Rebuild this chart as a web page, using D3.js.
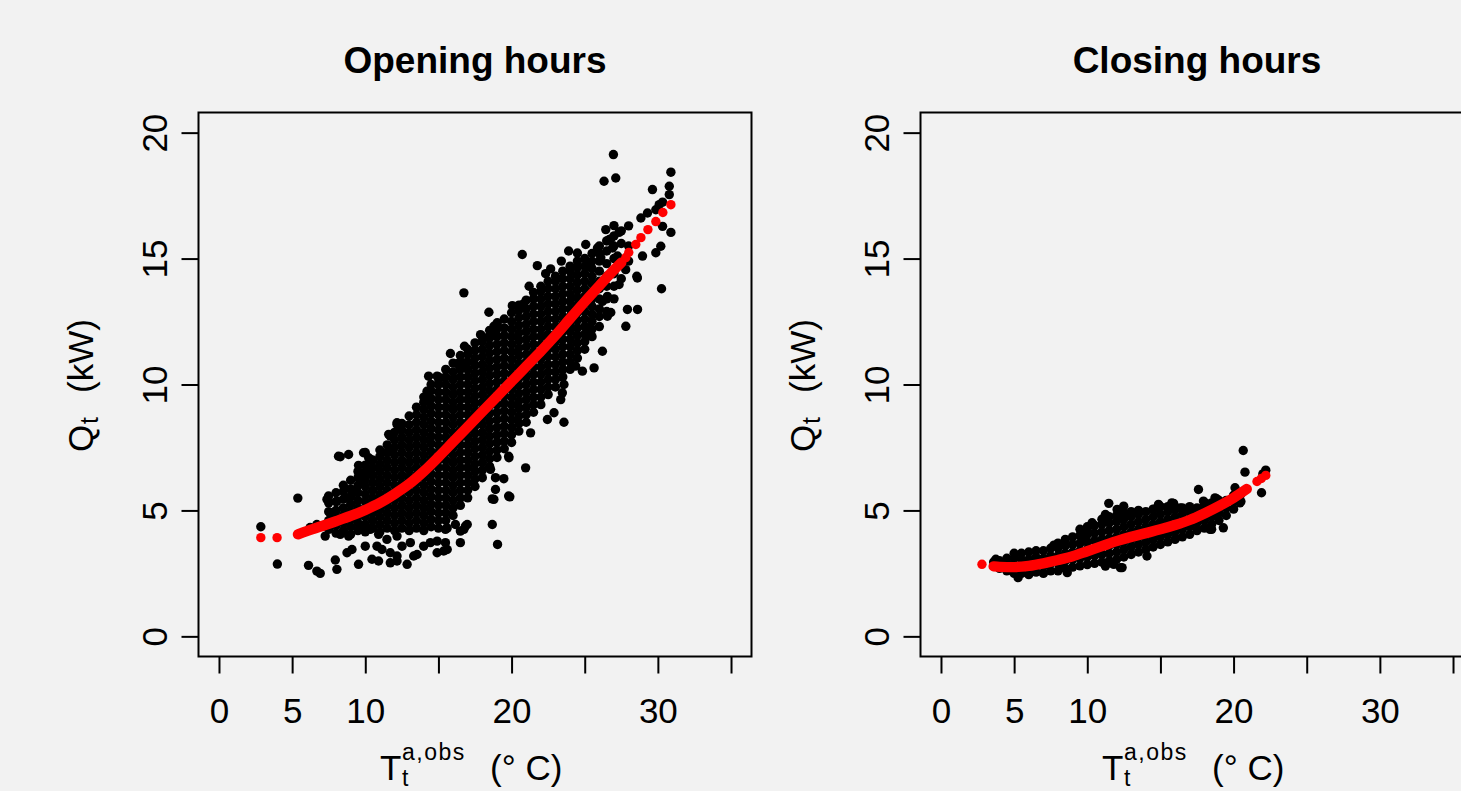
<!DOCTYPE html>
<html><head><meta charset="utf-8">
<script src="https://cdn.jsdelivr.net/npm/d3@7"></script>
<style>
html,body{margin:0;padding:0;background:#f2f2f2;}
svg{display:block;}
text{font-family:"Liberation Sans",Arial,Helvetica,sans-serif;fill:#000;}
</style></head><body>
<svg id="chart" width="1461" height="791"></svg>
<script>
// ---------- axis ticks / labels ----------
const xTicks = [0,5,10,15,20,25,30,35];
const xTickLabels = ["0","5","10","","20","","30",""];
const yTicks = [0,5,10,15,20];
const yTickLabels = ["0","5","10","15","20"];
const panelTitles = ["Opening hours","Closing hours"];

// ---------- Opening hours: observations (dense core by temperature column) ----------
const openCols = [
 [7.5,[4.25,4.6,4.95,5.3]],
 [8.0,[4.1,4.4,4.75,5.0,5.35,5.7]],
 [8.5,[4.2,4.5,4.8,5.1,5.45,5.75,6.0]],
 [9.0,[4.05,4.35,4.65,4.95,5.25,5.55,5.85,6.2]],
 [9.5,[4.2,4.5,4.8,5.1,5.4,5.7,6.0,6.3,6.55]],
 [10.0,[4.15,4.45,4.75,5.05,5.35,5.65,5.95,6.25,6.5,6.8]],
 [10.5,[4.3,4.6,4.9,5.2,5.5,5.8,6.1,6.4,6.7,7.0]],
 [11.0,[4.15,4.45,4.75,5.05,5.35,5.65,5.95,6.25,6.55,6.85,7.15,7.4]],
 [11.5,[4.3,4.6,4.9,5.2,5.5,5.8,6.1,6.4,6.7,7.0,7.3,7.6]],
 [12.0,[4.2,4.5,4.8,5.1,5.4,5.7,6.0,6.3,6.6,6.9,7.2,7.5,7.8,8.1]],
 [12.5,[4.3,4.6,4.9,5.2,5.5,5.8,6.1,6.4,6.7,7.0,7.3,7.6,7.9,8.2,8.45]],
 [13.0,[4.2,4.5,4.8,5.1,5.4,5.7,6.0,6.3,6.6,6.9,7.2,7.5,7.8,8.1,8.4,8.75]],
 [13.5,[4.3,4.6,4.9,5.2,5.5,5.8,6.1,6.4,6.7,7.0,7.3,7.6,7.9,8.2,8.5,8.8,9.1]],
 [14.0,[4.2,4.5,4.8,5.1,5.4,5.7,6.0,6.3,6.6,6.9,7.2,7.5,7.8,8.1,8.4,8.7,9.0,9.3,9.5]],
 [14.5,[4.35,4.65,4.95,5.25,5.55,5.85,6.15,6.45,6.75,7.05,7.35,7.65,7.95,8.25,8.55,8.85,9.15,9.45,9.75,10.0]],
 [15.0,[4.3,4.6,4.9,5.2,5.5,5.8,6.1,6.4,6.7,7.0,7.3,7.6,7.9,8.2,8.5,8.8,9.1,9.4,9.7,10.0,10.3]],
 [15.5,[4.6,4.9,5.2,5.5,5.8,6.1,6.4,6.7,7.0,7.3,7.6,7.9,8.2,8.5,8.8,9.1,9.4,9.7,10.0,10.3,10.6]],
 [16.0,[4.8,5.1,5.4,5.7,6.0,6.3,6.6,6.9,7.2,7.5,7.8,8.1,8.4,8.7,9.0,9.3,9.6,9.9,10.2,10.5,10.85]],
 [16.5,[5.2,5.5,5.8,6.1,6.4,6.7,7.0,7.3,7.6,7.9,8.2,8.5,8.8,9.1,9.4,9.7,10.0,10.3,10.6,10.9,11.15]],
 [17.0,[5.5,5.8,6.1,6.4,6.7,7.0,7.3,7.6,7.9,8.2,8.5,8.8,9.1,9.4,9.7,10.0,10.3,10.6,10.9,11.2,11.4]],
 [17.5,[5.95,6.25,6.55,6.85,7.15,7.45,7.75,8.05,8.35,8.65,8.95,9.25,9.55,9.85,10.15,10.45,10.75,11.05,11.35,11.65]],
 [18.0,[6.3,6.6,6.9,7.2,7.5,7.8,8.1,8.4,8.7,9.0,9.3,9.6,9.9,10.2,10.5,10.8,11.1,11.4,11.7,11.9]],
 [18.5,[6.75,7.05,7.35,7.65,7.95,8.25,8.55,8.85,9.15,9.45,9.75,10.05,10.35,10.65,10.95,11.25,11.55,11.85,12.15]],
 [19.0,[7.1,7.4,7.7,8.0,8.3,8.6,8.9,9.2,9.5,9.8,10.1,10.4,10.7,11.0,11.3,11.6,11.9,12.2,12.4]],
 [19.5,[7.45,7.75,8.05,8.35,8.65,8.95,9.25,9.55,9.85,10.15,10.45,10.75,11.05,11.35,11.65,11.95,12.25,12.6]],
 [20.0,[7.7,8.0,8.3,8.6,8.9,9.2,9.5,9.8,10.1,10.4,10.7,11.0,11.3,11.6,11.9,12.2,12.5,12.85]],
 [20.5,[8.15,8.45,8.75,9.05,9.35,9.65,9.95,10.25,10.55,10.85,11.15,11.45,11.75,12.05,12.35,12.65,12.95,13.15]],
 [21.0,[8.5,8.8,9.1,9.4,9.7,10.0,10.3,10.6,10.9,11.2,11.5,11.8,12.1,12.4,12.7,13.0,13.35]],
 [21.5,[8.9,9.2,9.5,9.8,10.1,10.4,10.7,11.0,11.3,11.6,11.9,12.2,12.5,12.8,13.1,13.4,13.65]],
 [22.0,[9.2,9.5,9.8,10.1,10.4,10.7,11.0,11.3,11.6,11.9,12.2,12.5,12.8,13.1,13.4,13.7,13.9]],
 [22.5,[9.6,9.9,10.2,10.5,10.8,11.1,11.4,11.7,12.0,12.3,12.6,12.9,13.2,13.5,13.8,14.1]],
 [23.0,[9.9,10.2,10.5,10.8,11.1,11.4,11.7,12.0,12.3,12.6,12.9,13.2,13.5,13.8,14.1,14.3]],
 [23.5,[10.3,10.6,10.9,11.2,11.5,11.8,12.1,12.4,12.7,13.0,13.3,13.6,13.9,14.2,14.5]],
 [24.0,[10.6,10.9,11.2,11.5,11.8,12.1,12.4,12.7,13.0,13.3,13.6,13.9,14.2,14.5,14.7]],
 [24.5,[11.05,11.35,11.65,11.95,12.25,12.55,12.85,13.15,13.45,13.75,14.05,14.35,14.65,14.9]],
 [25.0,[11.4,11.7,12.0,12.3,12.6,12.9,13.2,13.5,13.8,14.1,14.4,14.7,15.0]],
 [25.5,[11.9,12.2,12.5,12.8,13.1,13.4,13.7,14.0,14.3,14.6,14.9,15.2]],
 [26.0,[12.3,12.7,13.0,13.4,13.8,14.1,14.5,14.9,15.2,15.5]],
 [26.5,[12.9,13.4,13.9,14.3,14.8,15.3,15.7]],
 [27.0,[13.4,13.9,14.4,15.0,15.5,15.9]],
 [27.5,[14.2,14.9,15.6,16.1]],
 [28.0,[14.9,15.5,16.3]]
];
// ---------- Opening hours: scattered observations ----------
const openScatter = [
 [2.86,4.35],[3.99,2.87],[5.39,5.49],[7.49,5.57],[6.12,2.82],[6.69,2.59],[6.92,2.5],[8.06,2.66],[7.95,3.03],
 [8.29,7.13],[8.86,7.22],[9.54,2.86],[8.75,3.32],[9.09,3.45],[10.0,7.3],[10.34,7.02],[9.54,6.79],[11.71,7.35],
 [10.0,3.58],[10.46,3.06],[10.91,2.99],[11.71,2.92],[12.17,2.99],[12.86,2.86],[13.31,3.19],[14.91,3.78],
 [15.48,4.25],[15.6,3.45],[16.5,3.72],[16.74,4.25],[16.85,4.38],[18.68,4.44],[19.04,3.65],[18.56,6.63],
 [18.9,5.83],[18.79,5.44],[18.9,6.3],[19.47,6.26],[19.8,7.15],[19.8,5.57],[21.3,8.08],[20.96,6.69],[19.82,7.09],
 [18.68,5.46],[19.88,5.54],[16.5,4.18],[15.6,4.3],[15.48,3.72],[15.36,3.39],[22.45,8.61],[22.9,8.88],
 [23.58,8.5],[23.36,9.4],[16.97,4.44],[16.16,4.44],
 [6.23,4.32],[6.69,4.44],[7.26,3.98],[7.6,4.9],[8.06,5.37],[8.75,5.5],[8.5,4.64],[8.86,3.98],[8.29,4.05],
 [7.38,5.44],[9.43,5.71],[9.88,6.23],[9.66,6.43],[10.11,6.63],[9.43,4.64],[9.77,4.25],[10.34,4.25],
 [10.91,4.05],[11.48,3.85],[12.17,3.98],[12.51,3.58],[13.08,3.72],[13.54,3.25],[13.99,3.58],[14.45,3.72],
 [14.91,3.32],[11.71,3.32],[11.14,3.45],[12.17,3.19],[10.8,3.58],
 [8.17,7.15],[9.88,7.29],[10.23,7.09],[11.71,7.95],[12.17,8.41],[11.6,8.02],[12.17,8.48],[14.22,9.73],
 [14.33,10.33],[14.91,10.33],[15.02,10.2],[14.11,9.4],[15.82,11.23],[16.28,10.83],[16.74,10.86],[16.78,11.52],
 [17.88,11.98],[18.56,11.98],[18.45,12.87],[19.02,12.45],[18.79,12.31],[16.74,13.64],[20.05,13.13],
 [20.84,13.21],[20.73,15.16],[21.76,14.72],[22.67,14.59],[22.33,14.4],[24.5,15.22],[25.07,15.56],
 [25.87,15.42],[26.67,15.75],[26.9,15.42],[27.24,15.1],[26.1,15.03],[25.18,14.7],[26.44,16.15],[27.0,16.31],
 [27.35,16.04],[26.78,15.78],[26.96,19.13],[26.32,18.07],[27.12,18.2],[30.89,18.43],[30.78,17.87],
 [30.78,17.54],[29.63,17.74],[30.09,17.14],[30.32,17.24],[28.84,16.61],[29.29,16.81],[29.86,16.94],
 [30.89,16.04],[30.32,16.28],[30.2,15.49],[29.86,15.23],[28.56,14.3],[28.95,15.1],[28.6,14.23],[27.8,14.56],
 [27.35,13.97],[30.25,13.8],[27.92,12.98],[28.61,12.98],[27.81,12.31],[26.55,12.71],[26.21,11.32],
 [25.64,10.66],[24.84,10.53],[24.38,10.73],[25.18,12.25],[25.18,11.92],[23.58,10.0],[23.47,9.67],
 [26.21,13.3],[26.55,13.5],[26.78,12.86],[21.2,13.9],[23.4,14.9],[23.9,15.3]
];
// ---------- Opening hours: fitted values ----------
const openFitX = [5.4,6,7,8,9,10,11,12,13,14,15,16,17,18,19,20,21,22,23,24,25,26,27,27.5];
const openFitY = [4.05,4.18,4.37,4.57,4.78,5.02,5.3,5.65,6.05,6.55,7.12,7.72,8.32,8.92,9.52,10.12,10.72,11.32,11.95,12.62,13.28,13.92,14.55,14.84];
const openFitDotX = [2.86,3.97,27.81,28.01,28.49,28.84,29.32,29.86,30.34,30.89];
const openFitDotY = [3.92,3.92,15.04,15.24,15.56,15.83,16.15,16.47,16.83,17.14];

// ---------- Closing hours: observations ----------
const closeCols = [
 [4.0,[2.7,3.0]],
 [4.5,[2.6,2.9,3.1]],
 [5.0,[2.5,2.8,3.1,3.3]],
 [5.5,[2.5,2.8,3.05,3.3]],
 [6.0,[2.45,2.75,3.05,3.35]],
 [6.5,[2.55,2.85,3.15,3.4]],
 [7.0,[2.5,2.8,3.1,3.4]],
 [7.5,[2.6,2.9,3.2,3.5]],
 [8.0,[2.6,2.9,3.2,3.5,3.7]],
 [8.5,[2.7,3.0,3.3,3.6,3.85]],
 [9.0,[2.75,3.05,3.35,3.65,3.95]],
 [9.5,[2.8,3.1,3.4,3.7,4.0,4.25]],
 [10.0,[2.85,3.15,3.45,3.75,4.05,4.35]],
 [10.5,[2.9,3.2,3.5,3.8,4.1,4.4]],
 [11.0,[2.95,3.25,3.55,3.85,4.15,4.45,4.65]],
 [11.5,[3.0,3.3,3.6,3.9,4.2,4.5,4.75]],
 [12.0,[3.05,3.35,3.65,3.95,4.25,4.55,4.8]],
 [12.5,[3.15,3.45,3.75,4.05,4.35,4.65,4.9]],
 [13.0,[3.25,3.55,3.85,4.15,4.45,4.75,4.95]],
 [13.5,[3.35,3.65,3.95,4.25,4.55,4.85,5.0]],
 [14.0,[3.45,3.75,4.05,4.35,4.65,4.95]],
 [14.5,[3.55,3.85,4.15,4.45,4.75,5.05]],
 [15.0,[3.65,3.95,4.25,4.55,4.85,5.15]],
 [15.5,[3.75,4.05,4.35,4.65,4.95,5.15]],
 [16.0,[3.85,4.15,4.45,4.75,5.05]],
 [16.5,[3.95,4.25,4.55,4.85,5.1]],
 [17.0,[4.05,4.35,4.65,4.95,5.15]],
 [17.5,[4.2,4.5,4.8,5.1]],
 [18.0,[4.3,4.6,4.9,5.2]],
 [18.5,[4.45,4.75,5.05,5.3]],
 [19.0,[4.6,4.9,5.2,5.4]],
 [19.5,[4.8,5.1,5.4]],
 [20.0,[5.05,5.35,5.6]],
 [20.5,[5.35,5.65]]
];
const closeScatter = [
 [20.66,7.38],[20.78,6.52],[21.91,5.7],[22.2,6.6],[17.6,5.83],[18.85,5.46],[20.1,5.9],[17.94,5.37],[18.28,5.2],
 [15.78,5.3],[16.35,5.1],[14.87,5.24],[14.53,5.04],[11.47,5.28],[12.04,5.04],[12.49,5.17],[11.24,4.84],
 [10.33,4.44],[9.99,4.25],[9.65,3.78],[7.72,3.62],[5.27,2.33],[3.75,3.06],[14.08,3.19],[12.38,2.73],
 [11.24,2.79],[11.81,2.86],[18.39,4.25],[19.3,4.31],[10.33,4.51],[9.77,4.18],[12.26,2.73],[11.58,2.92],
 [18.05,5.3],[18.73,5.5],[20.43,5.3],[15.9,5.28],[18.5,4.25],[8.17,2.73],[8.63,2.53],[22.0,6.45],[3.6,2.95]
];
const closeFitX = [3.6,4,5,6,7,8,9,10,11,12,13,14,15,16,17,18,19,20,20.9];
const closeFitY = [2.78,2.76,2.75,2.8,2.9,3.03,3.18,3.38,3.58,3.78,3.95,4.1,4.25,4.42,4.62,4.88,5.17,5.5,5.85];
const closeFitDotX = [2.8,21.6,21.9,22.2];
const closeFitDotY = [2.86,6.15,6.27,6.39];

// ---------- drawing ----------
const svg = d3.select("#chart");
svg.append("rect").attr("width",1461).attr("height",791).attr("fill","#f2f2f2");

const W = 553, H = 544, TOP = 112.5;
const R = 4.7;

function panel(left, title, cols, scatter, fitX, fitY, dotX, dotY) {
  const x = d3.scaleLinear().domain([-1.4, 36.4]).range([left, left + W]);
  const y = d3.scaleLinear().domain([-0.8, 20.8]).range([TOP + H, TOP]);
  const g = svg.append("g");

  const pts = cols.flatMap(([cx, ys]) => ys.map(v => [cx, v])).concat(scatter);
  g.append("g").selectAll("circle").data(pts).join("circle")
    .attr("cx", d => x(d[0])).attr("cy", d => y(d[1])).attr("r", R).attr("fill", "#000");

  const fit = fitX.map((v, i) => [v, fitY[i]]);
  g.append("path").datum(fit)
    .attr("d", d3.line().x(d => x(d[0])).y(d => y(d[1])).curve(d3.curveMonotoneX))
    .attr("fill", "none").attr("stroke", "#ff0000").attr("stroke-width", 2 * R + 1)
    .attr("stroke-linecap", "round");
  const dots = dotX.map((v, i) => [v, dotY[i]]);
  g.append("g").selectAll("circle").data(dots).join("circle")
    .attr("cx", d => x(d[0])).attr("cy", d => y(d[1])).attr("r", R).attr("fill", "#ff0000");

  g.append("rect").attr("x", left).attr("y", TOP).attr("width", W).attr("height", H)
    .attr("fill", "none").attr("stroke", "#000").attr("stroke-width", 2);

  const ax = g.append("g").attr("transform", `translate(0,${TOP + H})`)
    .call(d3.axisBottom(x).tickValues(xTicks).tickFormat((d, i) => xTickLabels[i]).tickSize(17).tickSizeOuter(0));
  ax.select(".domain").remove();
  ax.selectAll(".tick line").attr("stroke", "#000").attr("stroke-width", 2);
  ax.selectAll(".tick text").attr("y", 66).attr("dy", null).attr("font-size", 35);

  const ay = g.append("g").attr("transform", `translate(${left},0)`)
    .call(d3.axisLeft(y).tickValues(yTicks).tickFormat((d, i) => yTickLabels[i]).tickSize(17).tickSizeOuter(0));
  ay.select(".domain").remove();
  ay.selectAll(".tick line").attr("stroke", "#000").attr("stroke-width", 2);
  ay.selectAll(".tick text").attr("x", 0).attr("dy", null).attr("font-size", 35)
    .attr("text-anchor", "middle").attr("transform", "translate(-32,0) rotate(-90)");

  const cx = left + W / 2;
  g.append("text").attr("x", cx).attr("y", 73).attr("text-anchor", "middle")
    .attr("font-weight", "bold").attr("font-size", 37).text(title);

  // x label: T_t^{a,obs}  (° C)
  const xl = g.append("g").attr("transform", `translate(${cx},780)`);
  xl.append("text").attr("x", -95).attr("y", 0).attr("font-size", 35).text("T");
  xl.append("text").attr("x", -73).attr("y", -20).attr("font-size", 23).attr("letter-spacing", 1.5).text("a,obs");
  xl.append("text").attr("x", -73).attr("y", 6).attr("font-size", 23).text("t");
  xl.append("text").attr("x", 15).attr("y", 0).attr("font-size", 35).text("(° C)");

  // y label: Q_t  (kW)
  const yl = g.append("g").attr("transform", `translate(${left - 106},${TOP + H / 2}) rotate(-90)`);
  yl.append("text").attr("x", -67.5).attr("y", 0).attr("font-size", 35).text("Q");
  yl.append("text").attr("x", -39.5).attr("y", 5).attr("font-size", 25).text("t");
  yl.append("text").attr("x", -8.5).attr("y", 0).attr("font-size", 35).text("(kW)");
}

panel(198.5, panelTitles[0], openCols, openScatter, openFitX, openFitY, openFitDotX, openFitDotY);
panel(920.5, panelTitles[1], closeCols, closeScatter, closeFitX, closeFitY, closeFitDotX, closeFitDotY);
</script>
</body></html>
